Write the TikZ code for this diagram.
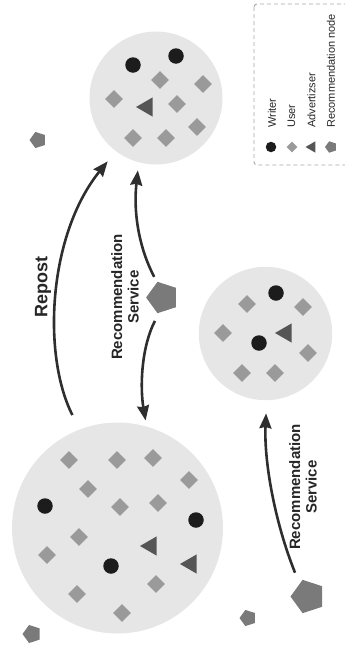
\documentclass[tikz,border=0pt]{standalone}
\usepackage{fontspec}
\setmainfont{Liberation Sans}
\usetikzlibrary{shapes.geometric,arrows.meta}

\definecolor{groupfill}{HTML}{E6E6E6}
\definecolor{userfill}{HTML}{9A9A9A}
\definecolor{writerfill}{HTML}{1C1C1C}
\definecolor{adfill}{HTML}{555555}
\definecolor{recfill}{HTML}{7A7A7A}
\definecolor{flowcol}{HTML}{2E2E2E}
\definecolor{legendline}{HTML}{A8A8A8}
\definecolor{labeltext}{HTML}{262626}

\begin{document}
\begin{tikzpicture}[x=1pt,y=-1pt,
  group/.style={circle,fill=groupfill,inner sep=0pt,minimum size=#1},
  writer/.style={circle,fill=writerfill,inner sep=0pt,minimum size=#1},
  writer/.default=15.5pt,
  user/.style={diamond,fill=userfill,inner sep=0pt,minimum width=#1,minimum height=#1},
  user/.default=18pt,
  advert/.style={regular polygon,regular polygon sides=3,shape border rotate=90,
    fill=adfill,inner sep=0pt,minimum size=#1},
  advert/.default=22pt,
  recnode/.style={regular polygon,regular polygon sides=5,shape border rotate=90,
    fill=recfill,inner sep=0pt,minimum size=#1},
  flow/.style={draw=flowcol,line width=2.6pt,
    -{Stealth[length=15pt,width=12pt,inset=1.5pt]}},
  flowlabel/.style={rotate=90,align=center,text=labeltext,font=\bfseries},
  legtext/.style={rotate=90,anchor=west,text=labeltext,inner sep=0pt,
    font=\fontsize{11}{13}\selectfont}]

\useasboundingbox (0,0) rectangle (345,648);

% ---- communities ----
\node[group=133pt] (top) at (156,98) {};
\node[group=133.4pt] (mid) at (265.5,333.5) {};
\node[group=211pt] (big) at (117.5,528) {};

% members of the upper community
\node[writer] (tw1) at (133,65) {};
\node[writer] (tw2) at (176,56) {};
\node[user] (tu1) at (160,80) {};
\node[user] (tu2) at (203,84) {};
\node[user] (tu3) at (114,99) {};
\node[user] (tu4) at (177,104) {};
\node[user] (tu5) at (197,127) {};
\node[user] (tu6) at (133,138) {};
\node[user] (tu7) at (166,138) {};
\node[advert] (ta1) at (147,107) {};

% members of the right-hand community
\node[writer] (mw1) at (276,293) {};
\node[writer] (mw2) at (259,343) {};
\node[user] (mu1) at (247,304) {};
\node[user] (mu2) at (303,307) {};
\node[user] (mu3) at (223,333) {};
\node[user] (mu4) at (308,353) {};
\node[user] (mu5) at (242,373) {};
\node[user] (mu6) at (275,373) {};
\node[advert] (ma1) at (286,333) {};

% members of the large community
\node[user] (bu1) at (69,460) {};
\node[user] (bu2) at (117,460) {};
\node[user] (bu3) at (153,458) {};
\node[user] (bu4) at (189,480) {};
\node[user] (bu5) at (88,489) {};
\node[user] (bu6) at (120,507) {};
\node[user] (bu7) at (158,503) {};
\node[user] (bu8) at (79,537) {};
\node[user] (bu9) at (47,555) {};
\node[user] (bu10) at (156,584) {};
\node[user] (bu11) at (77,594) {};
\node[user] (bu12) at (122,613) {};
\node[writer] (bw1) at (45,506) {};
\node[writer] (bw2) at (196,520) {};
\node[writer] (bw3) at (111,566) {};
\node[advert] (ba1) at (151,546) {};
\node[advert] (ba2) at (191,564) {};

% ---- recommendation nodes ----
\node[recnode=33pt] (svc) at (162.6,297.5) {};
\node[recnode=35pt] (bsvc) at (308,596.5) {};
\node[recnode=17pt] (r1) at (38,140) {};
\node[recnode=19pt] (r2) at (32,634) {};
\node[recnode=17pt] (r3) at (248,618) {};

% ---- flows ----
\draw[flow,shorten <=6pt,shorten >=8pt] (svc.110)
  .. controls (140,250) and (133,215) .. (top.255);
\draw[flow,shorten <=9pt,shorten >=6pt] (svc.257)
  .. controls (141,348) and (140,388) .. (big.74);
\draw[flow,shorten <=16pt,shorten >=13pt] (big.111)
  .. controls (42,355) and (48,235) .. (top.233);
\draw[flow,shorten <=12pt,shorten >=13pt] (bsvc.124)
  .. controls (274,520) and (264,460) .. (mid.271);

% ---- flow labels ----
\node[flowlabel,font=\bfseries\fontsize{18}{20}\selectfont] (lrepost) at (43,287) {Repost};
\node[flowlabel,font=\bfseries\fontsize{15}{16.5}\selectfont] (lsvc1) at (125,297)
  {Recommendation\\Service};
\node[flowlabel,font=\bfseries\fontsize{15}{16.5}\selectfont] (lsvc2) at (303,487)
  {Recommendation\\Service};

% ---- legend ----
\draw[legendline,dashed,line width=0.9pt,dash pattern=on 4pt off 3pt,rounded corners=3pt]
  (254,4) rectangle (350,165);
\node[writer=10.5pt] (kw) at (271,147) {};
\node[user=11pt] (ku) at (292,147) {};
\node[advert=13pt] (ka) at (312,147) {};
\node[recnode=12pt] (kr) at (331,147) {};
\node[legtext] (kwt) at (272,128) {Writer};
\node[legtext] (kut) at (291.5,128) {User};
\node[legtext] (kat) at (311.5,128) {Advertizser};
\node[legtext] (krt) at (331,128) {Recommendation node};

\end{tikzpicture}
\end{document}
